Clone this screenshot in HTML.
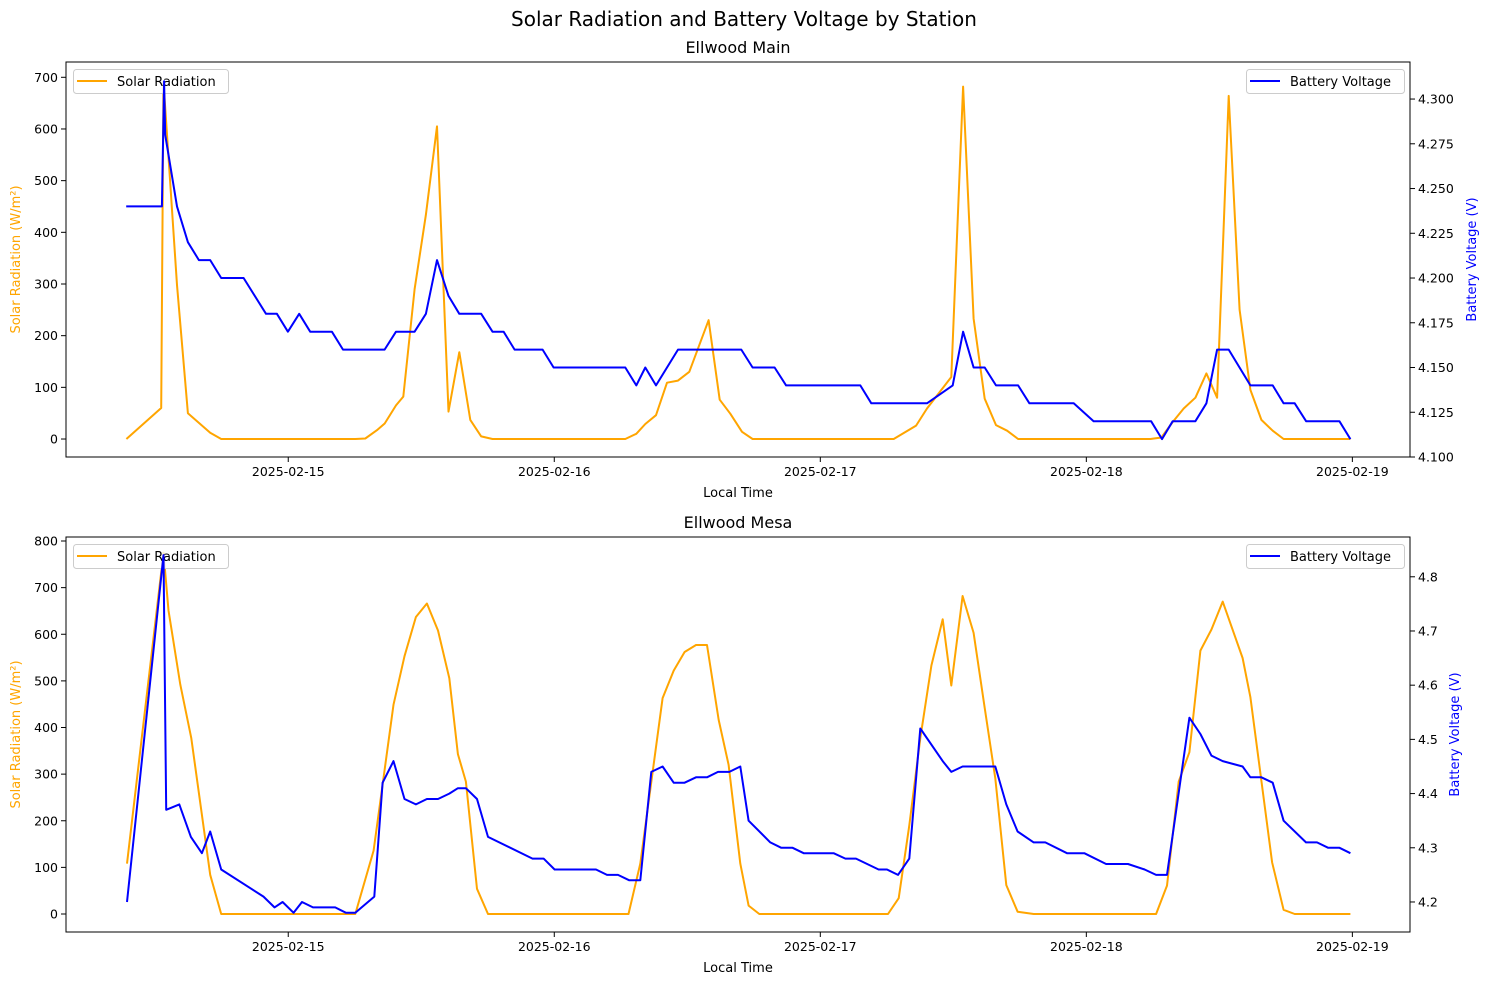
<!DOCTYPE html>
<html><head><meta charset="utf-8"><style>
html,body{margin:0;padding:0;background:#fff;}
svg{display:block;font-family:"DejaVu Sans","Liberation Sans",sans-serif;}
</style></head><body>
<svg id="fig" width="1489" height="985" viewBox="0 0 1489 985" xmlns="http://www.w3.org/2000/svg">
<rect width="1489" height="985" fill="#fff"/>
<text x="744" y="26" text-anchor="middle" font-size="20" fill="#000">Solar Radiation and Battery Voltage by Station</text>
</svg>
<script>
// ---- Ellwood Main data (hours since 2025-02-14 00:00) ----
const mainSolarHours=[9.4,12.54,12.75,13.96,14.95,16.96,17.95,30.05,30.95,32.0,32.7,33.72,34.38,35.4,36.42,37.42,38.46,39.43,40.42,41.41,42.43,54.41,55.4,56.21,57.18,58.17,59.16,60.18,61.92,62.92,63.88,64.94,65.89,78.62,80.64,81.63,83.82,84.88,85.83,86.83,87.85,88.85,89.84,101.78,102.77,103.79,104.78,105.84,106.83,107.8,108.84,109.83,110.8,111.79,112.81,113.8,119.82];
const mainSolar=[0,60,691,298,50,12,0,0,1,17,30,65,82,290,434,605,53,168,37,5,0,0,10,29,46,109,113,130,230,76,49,14,0,0,26,59,120,682,233,78,27,16,0,0,3,33,59,80,127,80,664,250,95,37,16,0,0];
const mainVoltHours=[9.38,12.6,12.8,12.9,13.96,14.95,15.94,16.96,17.95,19.97,21.99,22.98,23.97,24.99,25.98,27.94,28.94,32.69,33.72,35.4,36.42,37.42,38.46,39.43,41.41,42.43,43.43,44.42,46.95,47.94,54.41,55.4,56.21,57.18,59.16,64.87,65.89,67.88,68.91,75.61,76.6,81.63,83.94,84.88,85.83,86.83,87.85,89.84,90.86,94.86,96.66,101.84,102.83,103.79,105.84,106.83,107.8,108.84,110.8,112.81,113.8,114.8,115.83,118.83,119.82];
const mainVolt=[4.24,4.24,4.31,4.28,4.24,4.22,4.21,4.21,4.20,4.20,4.18,4.18,4.17,4.18,4.17,4.17,4.16,4.16,4.17,4.17,4.18,4.21,4.19,4.18,4.18,4.17,4.17,4.16,4.16,4.15,4.15,4.14,4.15,4.14,4.16,4.16,4.15,4.15,4.14,4.14,4.13,4.13,4.14,4.17,4.15,4.15,4.14,4.14,4.13,4.13,4.12,4.12,4.11,4.12,4.12,4.13,4.16,4.16,4.14,4.14,4.13,4.13,4.12,4.12,4.11];
// ---- Ellwood Mesa data ----
const mesaSolarHours=[9.45,12.75,13.2,14.26,15.25,16.96,17.95,30.05,31.7,33.5,34.49,35.52,36.51,37.51,38.53,39.31,40.03,41.03,42.02,54.7,55.76,57.77,58.77,59.76,60.79,61.78,62.83,63.73,64.78,65.53,66.5,78.11,79.07,80.03,81.02,82.02,83.04,83.82,84.84,85.83,86.83,87.79,88.78,89.8,91.25,102.29,103.28,104.33,105.3,106.29,107.28,108.3,110.1,110.8,112.76,113.8,114.8,119.82];
const mesaSolar=[108,775,651,492,377,84,0,0,136,449,553,637,666,608,506,343,284,54,0,0,108,463,522,562,577,577,416,320,108,18,0,0,34,190,377,533,632,490,682,603,442,291,62,5,0,0,61,284,347,565,610,670,549,465,111,9,0,0];
const mesaVoltHours=[9.45,12.75,12.99,14.17,15.22,16.21,16.96,17.95,21.77,22.76,23.49,24.48,25.24,26.23,28.24,29.21,30.05,31.76,32.51,33.5,34.49,35.52,36.51,37.51,38.53,39.31,40.03,41.03,42.02,46.04,47.04,48.03,51.76,52.76,53.75,54.77,55.76,56.75,57.77,58.77,59.76,60.79,61.78,62.77,63.79,64.78,65.53,67.49,68.48,69.5,70.5,73.2,74.26,75.22,77.26,78.02,79.01,80.03,81.02,83.04,83.82,84.84,87.79,88.78,89.8,91.25,92.3,94.26,95.82,97.78,99.76,101.26,102.29,103.28,105.3,106.29,107.28,108.3,110.1,110.8,111.79,112.81,113.8,115.82,116.81,117.82,118.84,119.82];
const mesaVolt=[4.20,4.84,4.37,4.38,4.32,4.29,4.33,4.26,4.21,4.19,4.20,4.18,4.20,4.19,4.19,4.18,4.18,4.21,4.42,4.46,4.39,4.38,4.39,4.39,4.40,4.41,4.41,4.39,4.32,4.28,4.28,4.26,4.26,4.25,4.25,4.24,4.24,4.44,4.45,4.42,4.42,4.43,4.43,4.44,4.44,4.45,4.35,4.31,4.30,4.30,4.29,4.29,4.28,4.28,4.26,4.26,4.25,4.28,4.52,4.46,4.44,4.45,4.45,4.38,4.33,4.31,4.31,4.29,4.29,4.27,4.27,4.26,4.25,4.25,4.54,4.51,4.47,4.46,4.45,4.43,4.43,4.42,4.35,4.31,4.31,4.30,4.30,4.29];
// ---- tick labels ----
const xTickHours=[24,48,72,96,120];
const xTickLabels=["2025-02-15","2025-02-16","2025-02-17","2025-02-18","2025-02-19"];
const mainLeftTicks=[0,100,200,300,400,500,600,700];
const mainRightTicks=[4.100,4.125,4.150,4.175,4.200,4.225,4.250,4.275,4.300];
const mesaLeftTicks=[0,100,200,300,400,500,600,700,800];
const mesaRightTicks=[4.2,4.3,4.4,4.5,4.6,4.7,4.8];

const NS="http://www.w3.org/2000/svg";
const svg=document.getElementById('fig');
function mk(tag,attrs,parent){const e=document.createElementNS(NS,tag);for(const k in attrs)e.setAttribute(k,attrs[k]);(parent||svg).appendChild(e);return e;}

const X0=66,X1=1410,HMIN=3.95,HMAX=125.2;
function xs(h){return X0+(h-HMIN)/(HMAX-HMIN)*(X1-X0);}

function panel(cfg){
  const {top,bot,title,lMin,lMax,rMin,rMax,lTicks,rTicks,rDec,sH,sV,vH,vV,key}=cfg;
  const g=mk('g',{});
  
  
  const yl=v=>bot-(v-lMin)/(lMax-lMin)*(bot-top);
  const yr=v=>bot-(v-rMin)/(rMax-rMin)*(bot-top);
  const t=mk('text',{x:738,y:top-9,'text-anchor':'middle','font-size':16,fill:'#000'},g);
  t.textContent=title;
  
  
  const sp=mk('polyline',{points:sH.map((h,i)=>xs(h).toFixed(1)+','+yl(sV[i]).toFixed(1)).join(' '),fill:'none',stroke:'#ffa500','stroke-width':2,'stroke-linejoin':'round'},g);
  
  
  const lg=mk('g',{},g);
  
  
  mk('rect',{x:73.5,y:top+7.5,width:155,height:24,rx:3,fill:'#fff','fill-opacity':0.8,stroke:'#ccc'},lg);
  mk('line',{x1:77,x2:107,y1:top+19,y2:top+19,stroke:'#ffa500','stroke-width':2},lg);
  const lt=mk('text',{x:117,y:top+24,'font-size':13,fill:'#000'},lg);lt.textContent='Solar Radiation';
  const bp=mk('polyline',{points:vH.map((h,i)=>xs(h).toFixed(1)+','+yr(vV[i]).toFixed(1)).join(' '),fill:'none',stroke:'#0000ff','stroke-width':2,'stroke-linejoin':'round'},g);
  
  
  const rg=mk('g',{},g);
  
  
  mk('rect',{x:1246.5,y:top+7.5,width:158,height:24,rx:3,fill:'#fff','fill-opacity':0.8,stroke:'#ccc'},rg);
  mk('line',{x1:1250,x2:1280,y1:top+19,y2:top+19,stroke:'#0000ff','stroke-width':2},rg);
  const rt=mk('text',{x:1290,y:top+24,'font-size':13,fill:'#000'},rg);rt.textContent='Battery Voltage';
  mk('rect',{x:X0,y:top,width:X1-X0,height:bot-top,fill:'none',stroke:'#000','stroke-width':1},g);
  xTickHours.forEach((h,i)=>{
    const x=xs(h);
    mk('line',{x1:x,x2:x,y1:bot,y2:bot+5,stroke:'#000'},g);
    const tx=mk('text',{x:x,y:bot+19,'text-anchor':'middle','font-size':12.5,fill:'#000'},g);
    tx.textContent=xTickLabels[i];
    
    
  });
  const xl=mk('text',{x:738,y:bot+40,'text-anchor':'middle','font-size':13,fill:'#000'},g);
  xl.textContent='Local Time';
  
  
  lTicks.forEach(v=>{
    const y=yl(v);
    mk('line',{x1:X0-5,x2:X0,y1:y,y2:y,stroke:'#000'},g);
    const tx=mk('text',{x:X0-8,y:y+4.5,'text-anchor':'end','font-size':12.5,fill:'#000'},g);
    tx.textContent=String(v);
    
    
  });
  rTicks.forEach(v=>{
    const y=yr(v);
    mk('line',{x1:X1,x2:X1+5,y1:y,y2:y,stroke:'#000'},g);
    const tx=mk('text',{x:X1+8,y:y+4.5,'font-size':12.5,fill:'#000'},g);
    tx.textContent=v.toFixed(rDec);
    
    
  });
  const cy=(top+bot)/2;
  const ly=mk('text',{x:0,y:0,'text-anchor':'middle','font-size':13,fill:'#ffa500',transform:`translate(20,${cy}) rotate(-90)`},g);
  ly.textContent='Solar Radiation (W/m²)';
  
  
  const ry=mk('text',{x:0,y:0,'text-anchor':'middle','font-size':13,fill:'#0000ff',transform:`translate(${rDec===3?1476:1459},${cy}) rotate(-90)`},g);
  ry.textContent='Battery Voltage (V)';
  
  
}

panel({key:'ellwood-main',top:62,bot:457,title:'Ellwood Main',lMin:-34.8,lMax:729.6,rMin:4.1,rMax:4.3207,lTicks:mainLeftTicks,rTicks:mainRightTicks,rDec:3,sH:mainSolarHours,sV:mainSolar,vH:mainVoltHours,vV:mainVolt});
panel({key:'ellwood-mesa',top:537,bot:932,title:'Ellwood Mesa',lMin:-38.6,lMax:808.6,rMin:4.1446,rMax:4.8734,lTicks:mesaLeftTicks,rTicks:mesaRightTicks,rDec:1,sH:mesaSolarHours,sV:mesaSolar,vH:mesaVoltHours,vV:mesaVolt});
</script>
</body></html>
